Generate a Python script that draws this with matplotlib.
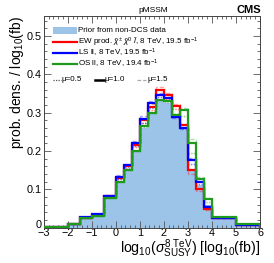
import matplotlib
matplotlib.use("Agg")
import matplotlib.pyplot as plt
import matplotlib.transforms as mtransforms
from matplotlib.lines import Line2D
from matplotlib.patches import Rectangle
from matplotlib.ticker import MultipleLocator

plt.rcParams['font.family'] = ['Liberation Sans', 'DejaVu Sans']
plt.rcParams['mathtext.fontset'] = 'custom'
plt.rcParams['mathtext.rm'] = 'Liberation Sans'
plt.rcParams['mathtext.it'] = 'Liberation Sans:italic'
plt.rcParams['mathtext.bf'] = 'Liberation Sans:bold'

# ---- data ----
edges = [-3, -2, -1.5, -1, -0.5, 0, 1/3, 2/3, 1, 4/3, 5/3, 2, 7/3, 8/3, 3, 10/3, 11/3, 4, 5, 6]
prior = [0.002, 0.008, 0.024, 0.031, 0.076, 0.118, 0.148, 0.198, 0.260, 0.296, 0.330, 0.325,
         0.296, 0.259, 0.150, 0.110, 0.059, 0.026, 0.007]
ew_mu10 = [0.002, 0.009, 0.026, 0.033, 0.081, 0.130, 0.160, 0.216, 0.280, 0.315, 0.358, 0.346,
           0.317, 0.268, 0.150, 0.100, 0.047, 0.025, 0.007]
ls_mu10 = [0.002, 0.009, 0.027, 0.034, 0.083, 0.133, 0.163, 0.220, 0.284, 0.324, 0.346, 0.339,
           0.288, 0.259, 0.176, 0.120, 0.054, 0.026, 0.007]
os_mu10 = [0.002, 0.008, 0.024, 0.031, 0.076, 0.120, 0.150, 0.200, 0.264, 0.300, 0.333, 0.330,
           0.295, 0.307, 0.220, 0.127, 0.074, 0.027, 0.008]
ew_mu05 = [0.002, 0.009, 0.025, 0.032, 0.079, 0.126, 0.156, 0.210, 0.273, 0.308, 0.347, 0.336,
           0.310, 0.263, 0.152, 0.104, 0.051, 0.025, 0.007]
ew_mu15 = [0.002, 0.009, 0.027, 0.034, 0.083, 0.133, 0.163, 0.222, 0.286, 0.322, 0.366, 0.352,
           0.322, 0.270, 0.140, 0.096, 0.045, 0.025, 0.007]
ls_mu05 = [0.002, 0.009, 0.026, 0.033, 0.080, 0.127, 0.157, 0.212, 0.274, 0.312, 0.340, 0.333,
           0.292, 0.259, 0.165, 0.114, 0.057, 0.026, 0.007]
ls_mu15 = [0.002, 0.009, 0.028, 0.035, 0.085, 0.137, 0.167, 0.226, 0.292, 0.330, 0.350, 0.342,
           0.285, 0.258, 0.182, 0.122, 0.052, 0.026, 0.007]
os_mu05 = [0.002, 0.008, 0.024, 0.031, 0.076, 0.119, 0.149, 0.199, 0.262, 0.298, 0.332, 0.328,
           0.296, 0.290, 0.195, 0.120, 0.066, 0.027, 0.008]
os_mu15 = [0.002, 0.008, 0.024, 0.031, 0.076, 0.121, 0.151, 0.201, 0.266, 0.301, 0.334, 0.331,
           0.297, 0.312, 0.230, 0.132, 0.078, 0.027, 0.008]

labels = ['Prior from non-DCS data',
          r'EW prod. $\tilde{\chi}^{\pm}\ \tilde{\chi}^{0}\ \tilde{l}$, 8 TeV, 19.5 fb$^{-1}$',
          r'LS ll, 8 TeV, 19.5 fb$^{-1}$',
          r'OS ll, 8 TeV, 19.4 fb$^{-1}$']
mu_labels = ['μ=0.5', 'μ=1.0', 'μ=1.5']
yticks = [0, 0.1, 0.2, 0.3, 0.4, 0.5]
ytick_labels = ['0', '0.1', '0.2', '0.3', '0.4', '0.5']

fill_c = '#9cc3e8'
red, blue, green = '#ff0000', '#0000ff', '#1e9a1e'

W, H = 274, 263
fig = plt.figure(figsize=(W / 100, H / 100), dpi=100)
L, R, T, B = 43.7, 260.0, 15.7, 227.5
ax = fig.add_axes([L / W, 1 - B / H, (R - L) / W, (B - T) / H])

ax.stairs(prior, edges, fill=True, color=fill_c, lw=0, zorder=1)

series = [(ew_mu05, ew_mu10, ew_mu15, red),
          (ls_mu05, ls_mu10, ls_mu15, blue),
          (os_mu05, os_mu10, os_mu15, green)]
for m05, m10, m15, c in series:
    ax.stairs(m15, edges, color=c, lw=1.0, ls=(0, (3, 1.5)), alpha=0.35, zorder=2)
    ax.stairs(m05, edges, color=c, lw=1.0, ls=(0, (1, 1)), alpha=0.5, zorder=2)
for m05, m10, m15, c in series:
    ax.stairs(m10, edges, color=c, lw=1.6, zorder=3)

ax.set_xlim(-3, 6)
ax.set_ylim(0, 0.553)
ax.xaxis.set_major_locator(MultipleLocator(1))
ax.xaxis.set_minor_locator(MultipleLocator(0.2))
ax.yaxis.set_minor_locator(MultipleLocator(0.02))
ax.set_yticks(yticks)
ax.set_yticklabels(ytick_labels)
ax.tick_params(which='both', direction='in', top=True, right=True, labelsize=7.8, pad=1.2,
               width=0.6, color='#555555')
ax.tick_params(which='major', length=5)
ax.tick_params(which='minor', length=2.5)
ax.tick_params(axis='x', pad=0.6)
for s in ax.spines.values():
    s.set_linewidth(0.7)
    s.set_color('#444444')

# lift the "0" y label slightly (as in the reference) so it sits above the "-3"
zero_lbl = ax.get_yticklabels()[0]
zero_lbl.set_transform(zero_lbl.get_transform() +
                       mtransforms.ScaledTranslation(0, 3 / 100, fig.dpi_scale_trans))

ax.set_xlabel(r'log$_{10}$($\sigma^{\rm 8\ TeV}_{\rm SUSY}$) [log$_{10}$(fb)]',
              loc='right', fontsize=10.2, labelpad=-1)
ax.set_ylabel(r'prob. dens. / log$_{10}$(fb)', loc='top', fontsize=10, labelpad=1)

fig.text(153 / W, 1 - 10 / H, 'pMSSM', ha='center', va='center', fontsize=6)
fig.text(261 / W, 1 - 10 / H, 'CMS', ha='right', va='center', fontsize=8, fontweight='bold')

def fx(px):
    return px / W

def fy(py):
    return 1 - py / H

# legend (manual layout)
fig.patches.append(Rectangle((fx(53), fy(34)), fx(24), 7 / H, transform=fig.transFigure,
                             facecolor=fill_c, edgecolor='none'))
fig.text(fx(78), fy(30.5), labels[0], va='center', fontsize=5.8)
for yy, c, lab in [(42, red, labels[1]), (53, blue, labels[2]), (64, green, labels[3])]:
    fig.lines.append(Line2D([fx(53), fx(77)], [fy(yy), fy(yy)], transform=fig.transFigure,
                            color=c, lw=1.6))
    fig.text(fx(78), fy(yy), lab, va='center', fontsize=5.8)

mu_styles = [dict(ls=(0, (1, 1)), color='#555555', lw=0.9),
             dict(ls='-', color='black', lw=1.8),
             dict(ls=(0, (3, 1.5)), color='#aaaaaa', lw=0.9)]
mu_x = [(53, 61), (95, 103.5), (137, 146)]
for (x0, x1), st, lab in zip(mu_x, mu_styles, mu_labels):
    fig.lines.append(Line2D([fx(x0), fx(x1)], [fy(79.5), fy(79.5)], transform=fig.transFigure, **st))
    fig.text(fx(x1 + 1), fy(79.5), lab, va='center', fontsize=5.8)

fig.savefig('out.png', dpi=100)
